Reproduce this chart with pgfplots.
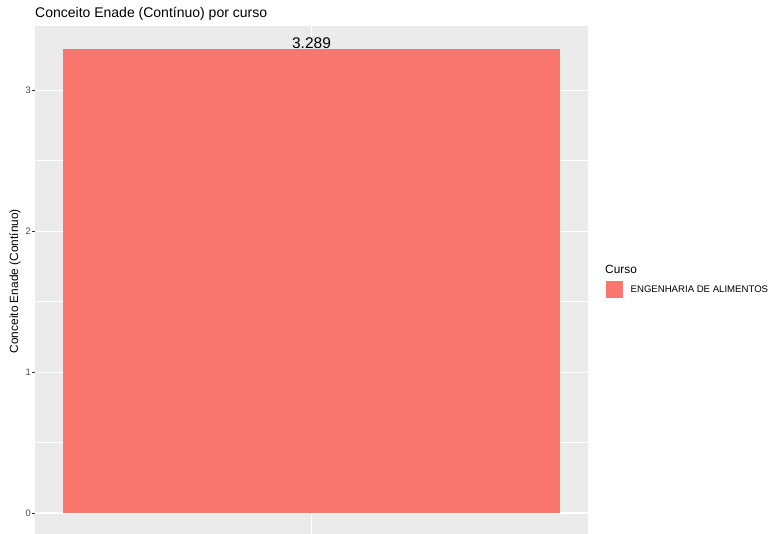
\documentclass[border=0pt]{standalone}
\usepackage{pgfplots}
\pgfplotsset{compat=1.18}
\usepackage{fontspec}
\setmainfont{Liberation Sans}
\definecolor{barcol}{HTML}{F8766D}
\definecolor{panelbg}{HTML}{EBEBEB}
\definecolor{grey30}{HTML}{4D4D4D}
\definecolor{grey20}{HTML}{333333}
\begin{document}
\begin{tikzpicture}[x=1pt,y=1pt]
\useasboundingbox (0,0) rectangle (771,534);
\begin{axis}[
  at={(35pt,-2.2pt)}, anchor=south west,
  scale only axis, width=553pt, height=510pt,
  xmin=0.5, xmax=1.5, ymin=-0.1645, ymax=3.4535,
  axis background/.style={fill=panelbg},
  axis line style={draw=none},
  xtick={1}, xticklabels={},
  ytick={0,1,2,3},
  minor ytick={0.5,1.5,2.5,3.5},
  xmajorgrids, ymajorgrids, yminorgrids,
  major grid style={white, line width=1.07pt},
  minor grid style={white, line width=0.53pt},
  tick align=outside,
  major tick length=2.75pt,
  minor tick length=0pt,
  tick style={grey20, line width=0.53pt},
  ytick pos=left, xtick pos=bottom,
  /pgf/number format/assume math mode=true,
  yticklabel style={font=\fontsize{9.4}{11}\selectfont, color=grey30, inner sep=1.2pt},
  ylabel={Conceito Enade (Contínuo)},
  ylabel style={font=\fontsize{11.9}{14}\selectfont, at={(axis description cs:-0.036,0.5)}, anchor=center},
  title={Conceito Enade (Contínuo) por curso},
  title style={font=\fontsize{14}{16}\selectfont, at={(axis description cs:0,1)}, anchor=base west, yshift=3pt, inner sep=0pt},
  legend style={at={(axis description cs:1.0325,0.4837)}, anchor=west, draw=none, fill=none, inner sep=0pt, font=\fontsize{9.6}{11}\selectfont, nodes={inner sep=0pt, anchor=west}},
  legend cell align=left,
  legend image code/.code={\fill[barcol] (0pt,-8.65pt) rectangle (17.3pt,8.65pt); \path (24.5pt,0pt);},
  clip=false,
]
\addplot[ybar, bar width=0.9, bar shift=0pt, fill=barcol, draw=none,
  point meta=explicit symbolic,
  nodes near coords,
  every node near coord/.append style={font=\fontsize{15.5}{18}\selectfont, color=black, anchor=base, inner sep=0pt, yshift=0.6pt}]
  coordinates {(1,3.289) [3.289]};
\addlegendentry{ENGENHARIA DE ALIMENTOS}
\node[anchor=west, inner sep=0pt, font=\fontsize{11.9}{14}\selectfont] at (axis description cs:1.0307,0.524) {Curso};
\end{axis}
\end{tikzpicture}
\end{document}
